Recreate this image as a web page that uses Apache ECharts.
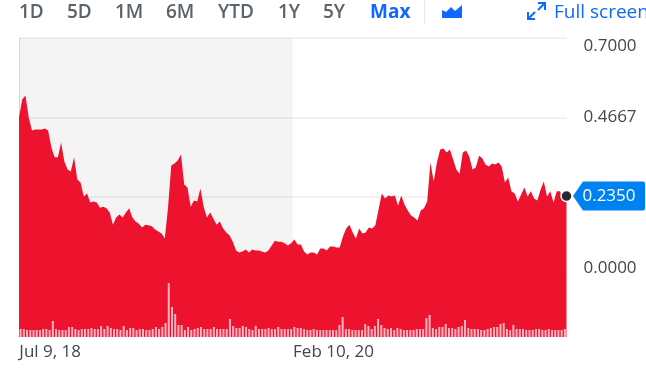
<!DOCTYPE html>
<html>
<head>
<meta charset="utf-8">
<style>html,body{margin:0;padding:0;background:#fff;overflow:hidden}#chart{width:646px;height:371px}</style>
<script src="https://cdn.jsdelivr.net/npm/echarts@6/dist/echarts.min.js"></script>
</head>
<body>
<div id="chart"></div>
<script>
const prices = [
  .466,.519,.531,.466,.428,.431,.431,.431,.434,.428,
  .378,.349,.349,.393,.337,.313,.307,.349,.284,.275,
  .234,.243,.216,.219,.216,.201,.204,.199,.187,.151,
  .172,.181,.172,.187,.199,.172,.160,.154,.143,.151,
  .149,.146,.137,.131,.125,.110,.201,.325,.331,.340,
  .357,.269,.260,.204,.222,.219,.257,.204,.172,.187,
  .169,.151,.160,.140,.128,.119,.101,.075,.069,.072,
  .078,.069,.078,.075,.075,.072,.069,.075,.090,.104,
  .101,.101,.096,.090,.096,.107,.093,.093,.072,.063,
  .069,.069,.063,.081,.081,.075,.087,.087,.084,.084,
  .116,.140,.151,.128,.110,.140,.125,.128,.143,.140,
  .149,.196,.243,.228,.237,.234,.237,.207,.237,.210,
  .193,.178,.172,.163,.193,.199,.219,.334,.278,.334,
  .372,.375,.363,.372,.343,.313,.301,.363,.369,.351,
  .313,.319,.354,.346,.328,.322,.331,.328,.334,.322,
  .275,.290,.249,.243,.219,.240,.260,.234,.249,.228,
  .222,.254,.278,.234,.249,.216,.249,.249,.219,.235
];
const volumes = [
  8,8,7,7,7,7,7,8,8,7,
  16,8,7,7,7,10,10,8,7,8,
  8,8,9,8,8,11,8,11,9,8,
  8,7,11,7,9,9,7,8,8,7,
  7,8,10,8,10,14,54,30,23,12,
  12,7,10,7,8,9,10,8,8,8,
  10,8,8,8,8,18,11,9,9,11,
  10,8,7,11,8,8,8,9,8,8,
  10,8,8,8,8,10,9,9,8,7,
  7,8,7,7,7,7,7,7,7,12,
  20,8,8,7,7,7,7,13,11,8,
  11,18,12,9,8,9,7,9,8,7,
  7,7,7,8,8,8,19,22,9,8,
  10,10,13,9,9,8,10,11,17,9,
  8,8,8,7,7,8,9,10,10,13,
  14,8,7,12,8,8,8,7,7,7,
  8,8,7,7,8,7,7,7,7,8
];
const dateLabels = { 0: 'Jul 9, 18', 85: 'Feb 10, 20' };
const priceTicks = [0, 0.2333, 0.4667, 0.7];
const priceLabels = [0, 0.4667, 0.7];
const rangeNames = ['1D', '5D', '1M', '6M', 'YTD', '1Y', '5Y'];
const rangeLefts = [19, 67, 115, 166, 218, 278, 323];
// share of the time axis that is shaded grey
const shadeEnd = 0.5;

const FONT = '"Open Sans", sans-serif';
const GREY = '#5b636a';
const BLUE = '#0f69ff';
const RED = '#ed122e';
const LABEL = '#3f474f';

const categories = prices.map((_, i) => dateLabels[i] || '');
const lastPrice = prices[prices.length - 1];
const lastIndex = prices.length - 1;

const chart = echarts.init(document.getElementById('chart'), null, { renderer: 'canvas' });

const toolbar = rangeNames.map((name, i) => ({
  type: 'text', left: rangeLefts[i], top: 3,
  style: { text: name, fill: GREY, font: '600 19px ' + FONT }
}));
toolbar.push(
  { type: 'text', left: 370, top: 3, style: { text: 'Max', fill: BLUE, font: '700 19px ' + FONT } },
  { type: 'rect', shape: { x: 424, y: 0, width: 1, height: 23 }, style: { fill: '#e6e8ec' } },
  {
    // area chart icon
    type: 'polygon',
    shape: { points: [[442, 18], [442, 10], [446, 12], [451, 7], [455, 11], [462, 5], [462, 18]] },
    style: { fill: BLUE }
  },
  {
    // full screen arrows
    type: 'group',
    children: [
      { type: 'polyline', shape: { points: [[538, 3], [545, 3], [545, 10]] }, style: { stroke: BLUE, lineWidth: 2, fill: null } },
      { type: 'line', shape: { x1: 545, y1: 3, x2: 538, y2: 10 }, style: { stroke: BLUE, lineWidth: 2 } },
      { type: 'polyline', shape: { points: [[528, 12], [528, 19], [535, 19]] }, style: { stroke: BLUE, lineWidth: 2, fill: null } },
      { type: 'line', shape: { x1: 528, y1: 19, x2: 535, y2: 12 }, style: { stroke: BLUE, lineWidth: 2 } }
    ]
  },
  { type: 'text', left: 554, top: 3, style: { text: 'Full screen', fill: BLUE, font: '500 19px ' + FONT } }
);

chart.setOption({
  animation: false,
  backgroundColor: '#fff',
  grid: { left: 19, right: 79.5, top: 38, bottom: 34 },
  graphic: toolbar,
  xAxis: [
    {
      type: 'category', data: categories, boundaryGap: false, show: false
    },
    {
      type: 'category', data: categories, boundaryGap: true, position: 'bottom',
      axisLine: { show: false }, axisTick: { show: false },
      axisLabel: {
        interval: 0, align: 'left', margin: 7, hideOverlap: false, padding: [0, 0, 0, -1.3],
        color: LABEL, fontFamily: FONT, fontSize: 17, fontWeight: 500
      }
    },
    { type: 'value', min: 0, max: 1, show: false, splitLine: { show: false } }
  ],
  yAxis: [
    {
      type: 'value', min: -0.1794, max: 0.7, position: 'right',
      axisLine: { show: true, lineStyle: { color: '#dcdfe8', width: 1 } },
      axisTick: { show: false, customValues: priceTicks },
      splitLine: { show: true, lineStyle: { color: '#f2f2f4', width: 2 } },
      axisLabel: {
        customValues: priceLabels, margin: 17, color: LABEL, fontFamily: FONT, fontSize: 17, fontWeight: 500,
        formatter: (v) => {
          const text = v.toFixed(4);
          if (v === 0.7) return '{top|' + text + '}';
          if (v === 0) return '{low|' + text + '}';
          return text;
        },
        rich: {
          top: { padding: [16, 0, 0, 0], color: LABEL, fontFamily: FONT, fontSize: 17, fontWeight: 500 },
          low: { padding: [0, 0, 16, 0], color: LABEL, fontFamily: FONT, fontSize: 17, fontWeight: 500 }
        }
      }
    },
    { type: 'value', min: 0, max: 299, show: false, splitLine: { show: false } }
  ],
  series: [
    {
      // older part of the range, shaded grey behind the area
      type: 'line', xAxisIndex: 2, yAxisIndex: 0, z: 1, data: [], silent: true,
      markArea: {
        silent: true,
        itemStyle: { color: 'rgba(0,0,0,0.045)' },
        data: [[{ xAxis: 0, yAxis: 0.7 }, { xAxis: shadeEnd, yAxis: -0.1794 }]]
      }
    },
    {
      type: 'line', xAxisIndex: 0, yAxisIndex: 0, z: 2, data: prices,
      showSymbol: false, smooth: false, clip: false,
      lineStyle: { width: 0 },
      areaStyle: { color: RED, opacity: 1, origin: 'start' },
      markPoint: {
        animation: false,
        silent: true,
        data: [
          {
            coord: [lastIndex, lastPrice],
            symbol: 'path://M0 14.5L10 0H70Q72 0 72 2V27Q72 29 70 29H10Z',
            symbolSize: [72, 29],
            symbolOffset: [42.5, 0],
            itemStyle: { color: '#0081f2' },
            label: {
              show: true, position: 'inside',
              formatter: lastPrice.toFixed(4),
              color: '#fff', fontFamily: FONT, fontSize: 17, fontWeight: 500
            }
          },
          {
            coord: [lastIndex, lastPrice],
            symbol: 'circle',
            symbolSize: 11,
            itemStyle: { color: '#26292e', borderColor: '#fff', borderWidth: 1.5 },
            label: { show: false }
          }
        ]
      }
    },
    {
      type: 'bar', xAxisIndex: 1, yAxisIndex: 1, z: 3, data: volumes,
      barWidth: 2, itemStyle: { color: '#fbb4c0' }, silent: true
    }
  ]
});
</script>
</body>
</html>
